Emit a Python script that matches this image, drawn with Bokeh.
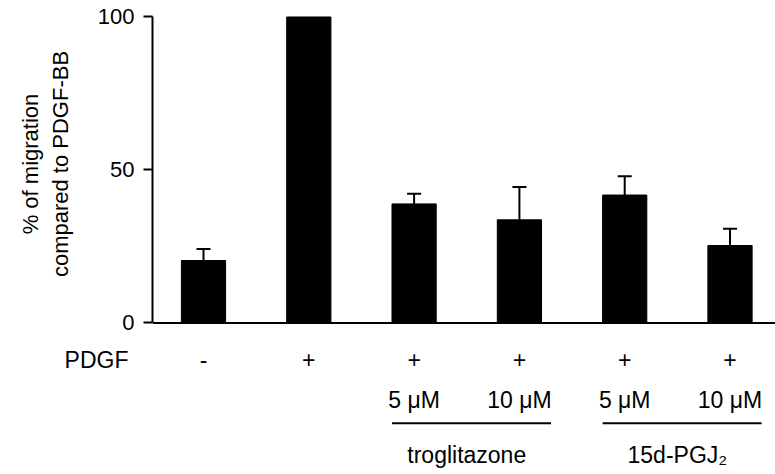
from bokeh.plotting import figure
from bokeh.layouts import column
from bokeh.models import (ColumnDataSource, Range1d, FixedTicker, Whisker, TeeHead, Span)
from bokeh.core.properties import value
from bokeh.embed import file_html
from bokeh.resources import INLINE

# ---- data ----
positions = [0, 1, 2, 3, 4, 5]
pdgf_signs = ["-", "+", "+", "+", "+", "+"]
migration = [20.4, 100.0, 38.9, 33.7, 41.8, 25.3]
sem = [3.8, 0.0, 3.3, 10.7, 6.1, 5.5]
conc_positions = [2, 3, 4, 5]
conc_labels = ["5 \u03bcM", "10 \u03bcM", "5 \u03bcM", "10 \u03bcM"]
group_names = ["troglitazone", "15d-PGJ\u2082"]
group_first = [2, 4]
group_last = [3, 5]
y_ticks = [0, 50, 100]
row_label = "PDGF"
y_title = "% of migration\ncompared to PDGF-BB"

FONT = "Liberation Sans"
W = 775
LEFT = 152
TOP_FRAME_H = 327
TOP_BOTTOM_BORDER = 10
TOP_H = TOP_FRAME_H + TOP_BOTTOM_BORDER
ROW_Y = -12
CONC_Y = -25.3
LINE_Y = -32.8
GROUP_Y = -43.3

xr = Range1d(-0.4843, 5.432)

# ---------------- top: bars ----------------
p = figure(width=W, height=TOP_H, output_backend="svg", toolbar_location=None,
           x_axis_location=None, x_range=xr, y_range=Range1d(-1.5, 105.39),
           min_border_left=LEFT, min_border_right=0, min_border_top=0,
           min_border_bottom=TOP_BOTTOM_BORDER)
p.outline_line_color = None
p.grid.visible = False

ax = p.yaxis[0]
ax.ticker = FixedTicker(ticks=y_ticks)
ax.bounds = (0, 100)
ax.axis_line_width = 2
ax.axis_line_color = "black"
ax.major_tick_line_width = 2
ax.major_tick_line_color = "black"
ax.major_tick_out = 9
ax.major_tick_in = 0
ax.minor_tick_line_color = None
ax.major_label_text_font = FONT
ax.major_label_text_font_size = "22px"
ax.major_label_text_color = "black"
ax.major_label_standoff = 9
ax.axis_label = y_title
ax.axis_label_text_font = FONT
ax.axis_label_text_font_size = "22px"
ax.axis_label_text_font_style = "normal"
ax.axis_label_text_color = "black"
ax.axis_label_standoff = 22

p.add_layout(Span(location=0, dimension="width", line_color="black", line_width=2))

src = ColumnDataSource(dict(x=positions, top=migration))
p.vbar(x="x", top="top", bottom=0, width=0.42, source=src,
       fill_color="black", line_color="black")

idx = [i for i, s in enumerate(sem) if s > 0]
esrc = ColumnDataSource(dict(x=[positions[i] for i in idx],
                             lower=[migration[i] for i in idx],
                             upper=[migration[i] + sem[i] for i in idx]))
p.add_layout(Whisker(base="x", lower="lower", upper="upper", source=esrc,
                     line_width=2, line_color="black", lower_head=None,
                     upper_head=TeeHead(size=14, line_width=2, line_color="black")))

# ---------------- bottom: treatment labels ----------------
q = figure(width=W, height=474 - TOP_H, output_backend="svg", toolbar_location=None,
           x_axis_location=None, x_range=xr, y_range=Range1d(-49.51, -4.74),
           min_border_left=LEFT, min_border_right=0, min_border_top=0,
           min_border_bottom=0)
q.outline_line_color = None
q.grid.visible = False

qa = q.yaxis[0]
qa.ticker = FixedTicker(ticks=[ROW_Y])
qa.major_label_overrides = {ROW_Y: row_label}
qa.axis_line_color = None
qa.major_tick_line_color = None
qa.minor_tick_line_color = None
qa.major_tick_out = 0
qa.major_tick_in = 0
qa.major_label_standoff = 24
qa.major_label_text_font = FONT
qa.major_label_text_font_size = "23px"
qa.major_label_text_color = "black"

common = dict(text_font=value(FONT), text_font_size="23px",
              text_baseline="middle", text_color="black")
q.text(x=positions, y=[ROW_Y] * len(positions), text=pdgf_signs,
       text_align="center", **common)
q.text(x=conc_positions, y=[CONC_Y] * len(conc_positions), text=conc_labels,
       text_align="center", **common)
q.segment(x0=[f - 0.21 for f in group_first], x1=[l + 0.30 for l in group_last],
          y0=[LINE_Y] * 2, y1=[LINE_Y] * 2, line_color="black", line_width=2)
q.text(x=[(f + l) / 2 for f, l in zip(group_first, group_last)], y=[GROUP_Y] * 2,
       text=group_names, text_align="center", **common)

layout = column(p, q, spacing=0)
open("out.html", "w").write(file_html(layout, INLINE))
